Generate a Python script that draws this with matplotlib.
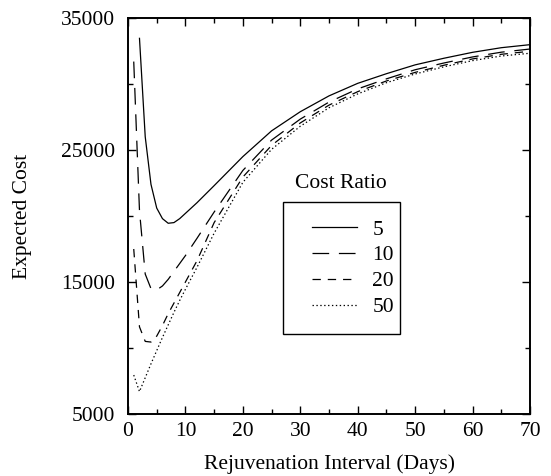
import matplotlib
matplotlib.use("Agg")
import matplotlib.pyplot as plt
from matplotlib.ticker import MultipleLocator
from matplotlib.patches import Rectangle

# ---- data ----
days_5 = [2, 3, 4, 5, 6, 7, 8, 9, 10, 12, 15, 20, 25, 30, 35, 40, 45, 50, 55, 60, 65, 70]
cost_5 = [33460, 26000, 22400, 20600, 19800, 19450, 19500, 19800, 20200, 21000, 22300, 24500,
          26450, 27900, 29100, 30050, 30780, 31450, 31950, 32400, 32750, 32980]

days_other = [1, 2, 3, 4, 5, 6, 7, 8, 9, 10, 12, 15, 20, 25, 30, 35, 40, 45, 50, 55, 60, 65, 70]
cost_10 = [31700, 20400, 15600, 14500, 14400, 14700, 15200, 15800, 16400, 17000, 18300, 20300,
           23450, 25750, 27340, 28630, 29630, 30390, 31080, 31590, 32050, 32410, 32650]
cost_20 = [17500, 11600, 10500, 10450, 10900, 11700, 12600, 13400, 14200, 15000, 16600, 19500,
           22950, 25350, 27050, 28400, 29420, 30230, 30880, 31420, 31900, 32250, 32480]
cost_50 = [7950, 6700, 7750, 8800, 9800, 10800, 11750, 12700, 13600, 14450, 16100, 18700,
           22550, 25050, 26800, 28200, 29250, 30100, 30760, 31300, 31770, 32120, 32330]

ratio_labels = ["5", "10", "20", "50"]
legend_title = "Cost Ratio"
x_label = "Rejuvenation Interval (Days)"
y_label = "Expected Cost"

plt.rcParams['font.family'] = ['Liberation Serif', 'DejaVu Serif']
plt.rcParams['lines.scale_dashes'] = False
FS = 15.5

W, H = 551, 476
L, R, T, B = 128, 530, 18, 414

fig = plt.figure(figsize=(W / 100, H / 100), dpi=100)
ax = fig.add_axes([L / W, 1 - B / H, (R - L) / W, (B - T) / H])

def ax_x(px):
    return (px - L) / (R - L)

def ax_y(py):
    return (B - py) / (B - T)

styles = [
    dict(linestyle='-'),
    dict(linestyle=(0, (12, 7))),
    dict(linestyle=(0, (6, 5))),
    dict(linestyle=(0, (1, 1.8))),
]
series = [(days_5, cost_5), (days_other, cost_10), (days_other, cost_20), (days_other, cost_50)]
handles = []
for (d, c), st, lab in zip(series, styles, ratio_labels):
    ln, = ax.plot(d, c, color='black', linewidth=0.9, label=lab, **st)
    handles.append(ln)

ax.set_xlim(0, 70)
ax.set_ylim(5000, 35000)
ax.xaxis.set_major_locator(MultipleLocator(10))
ax.xaxis.set_minor_locator(MultipleLocator(5))
ax.set_yticks([5000, 15000, 25000, 35000])
ax.set_yticks([10000, 20000, 30000], minor=True)
ax.tick_params(which='both', direction='in', top=True, right=True, labelsize=FS, width=1.0)
ax.tick_params(which='major', length=5.8)
ax.tick_params(which='minor', length=3.3)
ax.tick_params(axis='x', which='major', pad=6)
ax.tick_params(axis='y', which='major', pad=9)
for s in ax.spines.values():
    s.set_linewidth(1.4)

ax.set_xlabel(x_label, fontsize=FS, labelpad=9)
ax.set_ylabel(y_label, fontsize=FS, labelpad=21)

leg = ax.legend(handles=handles, labels=ratio_labels, loc='upper left',
                bbox_to_anchor=(ax_x(312), ax_y(219.5)), fontsize=FS,
                frameon=False, handlelength=2.1, handletextpad=0.7, borderpad=0,
                labelspacing=0.27, borderaxespad=0)
ax.add_patch(Rectangle((ax_x(283), ax_y(334)), ax_x(400) - ax_x(283), ax_y(202) - ax_y(334),
                       transform=ax.transAxes, fill=False, edgecolor='black',
                       linewidth=1.0, clip_on=False, zorder=5))
ax.text(ax_x(341), ax_y(183), legend_title, transform=ax.transAxes,
        ha='center', va='center', fontsize=FS)

fig.savefig("out.png", dpi=100)
